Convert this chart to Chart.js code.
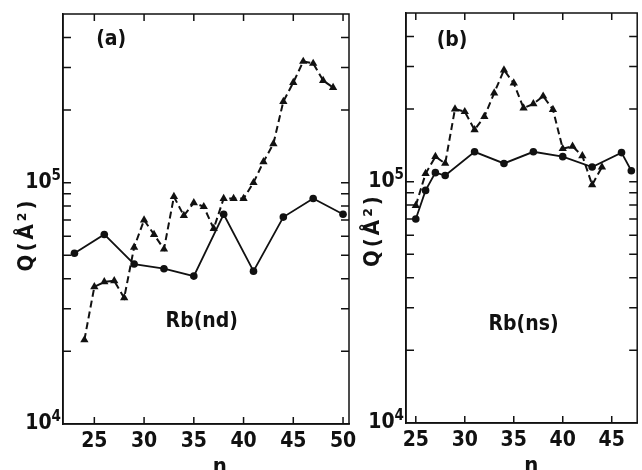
<!DOCTYPE html>
<html>
<head>
<meta charset="utf-8">
<script src="https://cdn.jsdelivr.net/npm/chart.js@4.4.1/dist/chart.umd.min.js"></script>
<style>
html, body { margin: 0; padding: 0; background: #fff; }
#wrap { position: relative; width: 642px; height: 470px; overflow: hidden; }
canvas { position: absolute; top: 0; }
#chart-a { left: 0; }
#chart-b { left: 356px; }
</style>
</head>
<body>
<div id="wrap">
  <canvas id="chart-a" width="356" height="470"></canvas>
  <canvas id="chart-b" width="286" height="470"></canvas>
</div>
<script>
// ============ Data ============
// Panel (a): Rb(nd)
const nA_circles = [23, 26, 29, 32, 35, 38, 41, 44, 47, 50];
const qA_circles = [5.1e4, 6.1e4, 4.6e4, 4.4e4, 4.1e4, 7.4e4, 4.3e4, 7.2e4, 8.6e4, 7.4e4];
const nA_triangles = [24, 25, 26, 27, 28, 29, 30, 31, 32, 33, 34, 35, 36, 37, 38, 39, 40, 41, 42, 43, 44, 45, 46, 47, 48, 49];
const qA_triangles = [2.23e4, 3.7e4, 3.88e4, 3.92e4, 3.33e4, 5.4e4, 7.0e4, 6.1e4, 5.3e4, 8.75e4, 7.3e4, 8.25e4, 7.95e4,
    6.45e4, 8.6e4, 8.6e4, 8.6e4, 1.0e5, 1.22e5, 1.45e5, 2.17e5, 2.6e5, 3.18e5, 3.12e5, 2.65e5, 2.48e5];

// Panel (b): Rb(ns)
const nB_circles = [25, 26, 27, 28, 31, 34, 37, 40, 43, 46, 47];
const qB_circles = [7.0e4, 9.2e4, 1.09e5, 1.06e5, 1.33e5, 1.19e5, 1.33e5, 1.27e5, 1.15e5, 1.32e5, 1.11e5];
const nB_triangles = [25, 26, 27, 28, 29, 30, 31, 32, 33, 34, 35, 36, 37, 38, 39, 40, 41, 42, 43, 44];
const qB_triangles = [7.96e4, 1.08e5, 1.27e5, 1.19e5, 2.0e5, 1.95e5, 1.64e5, 1.86e5, 2.33e5, 2.9e5, 2.56e5, 2.02e5,
    2.10e5, 2.26e5, 1.99e5, 1.37e5, 1.40e5, 1.28e5, 9.7e4, 1.15e5];

// Axis ticks
const yLabelTicks = [1e4, 1e5];
const yLabelExp = ['4', '5'];
const yFrameTicks = [2e4, 3e4, 4e4, 5e4, 6e4, 7e4, 8e4, 9e4, 1e5, 2e5, 3e5, 4e5];
const xTicksA = [25, 30, 35, 40, 45, 50];
const xTicksB = [25, 30, 35, 40, 45];

const INK = '#111';
const FONT = '"DejaVu Sans Condensed", "Liberation Sans Narrow", "DejaVu Sans", sans-serif';

// ============ Frame plugin: box, inward ticks, labels ============
const framePlugin = {
    id: 'frame',
    afterDraw(chart, args, opts) {
        const { ctx, chartArea: a, scales } = chart;
        const sx = scales.x, sy = scales.y;
        ctx.save();
        ctx.strokeStyle = INK;
        ctx.lineWidth = 1.5;
        ctx.strokeRect(a.left, a.top, a.right - a.left, a.bottom - a.top);

        ctx.beginPath();
        yFrameTicks.forEach(v => {
            const y = sy.getPixelForValue(v);
            ctx.moveTo(a.left, y); ctx.lineTo(a.left + 8, y);
            ctx.moveTo(a.right, y); ctx.lineTo(a.right - 8, y);
        });
        opts.xTicks.forEach(v => {
            const x = sx.getPixelForValue(v);
            ctx.moveTo(x, a.bottom); ctx.lineTo(x, a.bottom - 7);
            ctx.moveTo(x, a.top); ctx.lineTo(x, a.top + 7);
        });
        ctx.stroke();

        ctx.fillStyle = INK;

        // y labels: 10 with superscript exponent
        ctx.textBaseline = 'middle';
        ctx.textAlign = 'right';
        yLabelTicks.forEach((v, i) => {
            const y = sy.getPixelForValue(v);
            ctx.font = 'bold 15px ' + FONT;
            const ew = ctx.measureText(yLabelExp[i]).width;
            ctx.fillText(yLabelExp[i], a.left - 2, y - 7);
            ctx.font = 'bold 21px ' + FONT;
            ctx.fillText('10', a.left - 2 - ew, y);
        });

        // annotations
        ctx.textAlign = 'center';
        ctx.font = 'bold 21px ' + FONT;
        opts.labels.forEach(l => {
            ctx.fillText(l.text, sx.getPixelForValue(l.n), sy.getPixelForValue(l.q));
        });

        // x title
        ctx.textBaseline = 'top';
        ctx.font = 'bold 22px ' + FONT;
        ctx.fillText('n', sx.getPixelForValue(opts.xTitleN), a.bottom + 32);

        // y title
        ctx.save();
        ctx.translate(opts.yTitleX, sy.getPixelForValue(opts.yTitleQ));
        ctx.rotate(-Math.PI / 2);
        ctx.textBaseline = 'middle';
        ctx.font = 'bold 22px ' + FONT;
        ctx.letterSpacing = '3px';
        ctx.fillText('Q(\u00C5\u00B2)', 0, 0);
        ctx.restore();

        ctx.restore();
    }
};

function makePanel(id, cfg) {
    const ctx = document.getElementById(id).getContext('2d');
    return new Chart(ctx, {
        type: 'scatter',
        data: {
            datasets: [
                {
                    label: 'circles',
                    data: cfg.nCirc.map((n, i) => ({ x: n, y: cfg.qCirc[i] })),
                    showLine: true,
                    borderColor: INK,
                    backgroundColor: INK,
                    borderWidth: 1.8,
                    pointStyle: 'circle',
                    pointRadius: 3.8,
                    pointBorderWidth: 0
                },
                {
                    label: 'triangles',
                    data: cfg.nTri.map((n, i) => ({ x: n, y: cfg.qTri[i] })),
                    showLine: true,
                    borderColor: INK,
                    backgroundColor: INK,
                    borderWidth: 2,
                    borderDash: [7, 4],
                    pointStyle: 'triangle',
                    pointRadius: 4.8,
                    pointBorderWidth: 0
                }
            ]
        },
        options: {
            responsive: false,
            animation: false,
            clip: false,
            layout: { padding: cfg.padding },
            plugins: {
                legend: { display: false },
                tooltip: { enabled: false },
                frame: cfg.frame
            },
            scales: {
                x: {
                    type: 'linear',
                    min: cfg.xMin,
                    max: cfg.xMax,
                    afterFit: s => { s.height = cfg.xHeight; s.paddingLeft = 0; s.paddingRight = 0; },
                    afterBuildTicks: s => { s.ticks = cfg.frame.xTicks.map(v => ({ value: v })); },
                    grid: { display: false, drawTicks: false },
                    border: { display: true, color: INK, width: 1.5 },
                    ticks: { color: INK, padding: 5, font: { family: FONT, size: 21, weight: 'bold' } }
                },
                y: {
                    type: 'logarithmic',
                    min: 1e4,
                    max: 5e5,
                    afterFit: s => { s.width = cfg.yWidth; s.paddingTop = 0; s.paddingBottom = 0; },
                    grid: { display: false },
                    border: { display: true, color: INK, width: 1.5 },
                    ticks: { display: false }
                }
            }
        },
        plugins: [framePlugin]
    });
}

makePanel('chart-a', {
    nCirc: nA_circles, qCirc: qA_circles, nTri: nA_triangles, qTri: qA_triangles,
    xMin: 21.85, xMax: 50.6,
    yWidth: 63, xHeight: 46,
    padding: { top: 14, right: 7, bottom: 0, left: 0 },
    frame: {
        xTicks: xTicksA,
        xTitleN: 37.6,
        yTitleX: 27, yTitleQ: 6.1e4,
        labels: [
            { text: '(a)', n: 26.7, q: 3.9e5 },
            { text: 'Rb(nd)', n: 35.8, q: 2.65e4 }
        ]
    }
});

makePanel('chart-b', {
    nCirc: nB_circles, qCirc: qB_circles, nTri: nB_triangles, qTri: qB_triangles,
    xMin: 24.0, xMax: 47.6,
    yWidth: 50, xHeight: 47,
    padding: { top: 13, right: 4, bottom: 0, left: 0 },
    frame: {
        xTicks: xTicksB,
        xTitleN: 36.8,
        yTitleX: 17, yTitleQ: 6.3e4,
        labels: [
            { text: '(b)', n: 28.7, q: 3.83e5 },
            { text: 'Rb(ns)', n: 36.0, q: 2.56e4 }
        ]
    }
});
</script>
</body>
</html>
